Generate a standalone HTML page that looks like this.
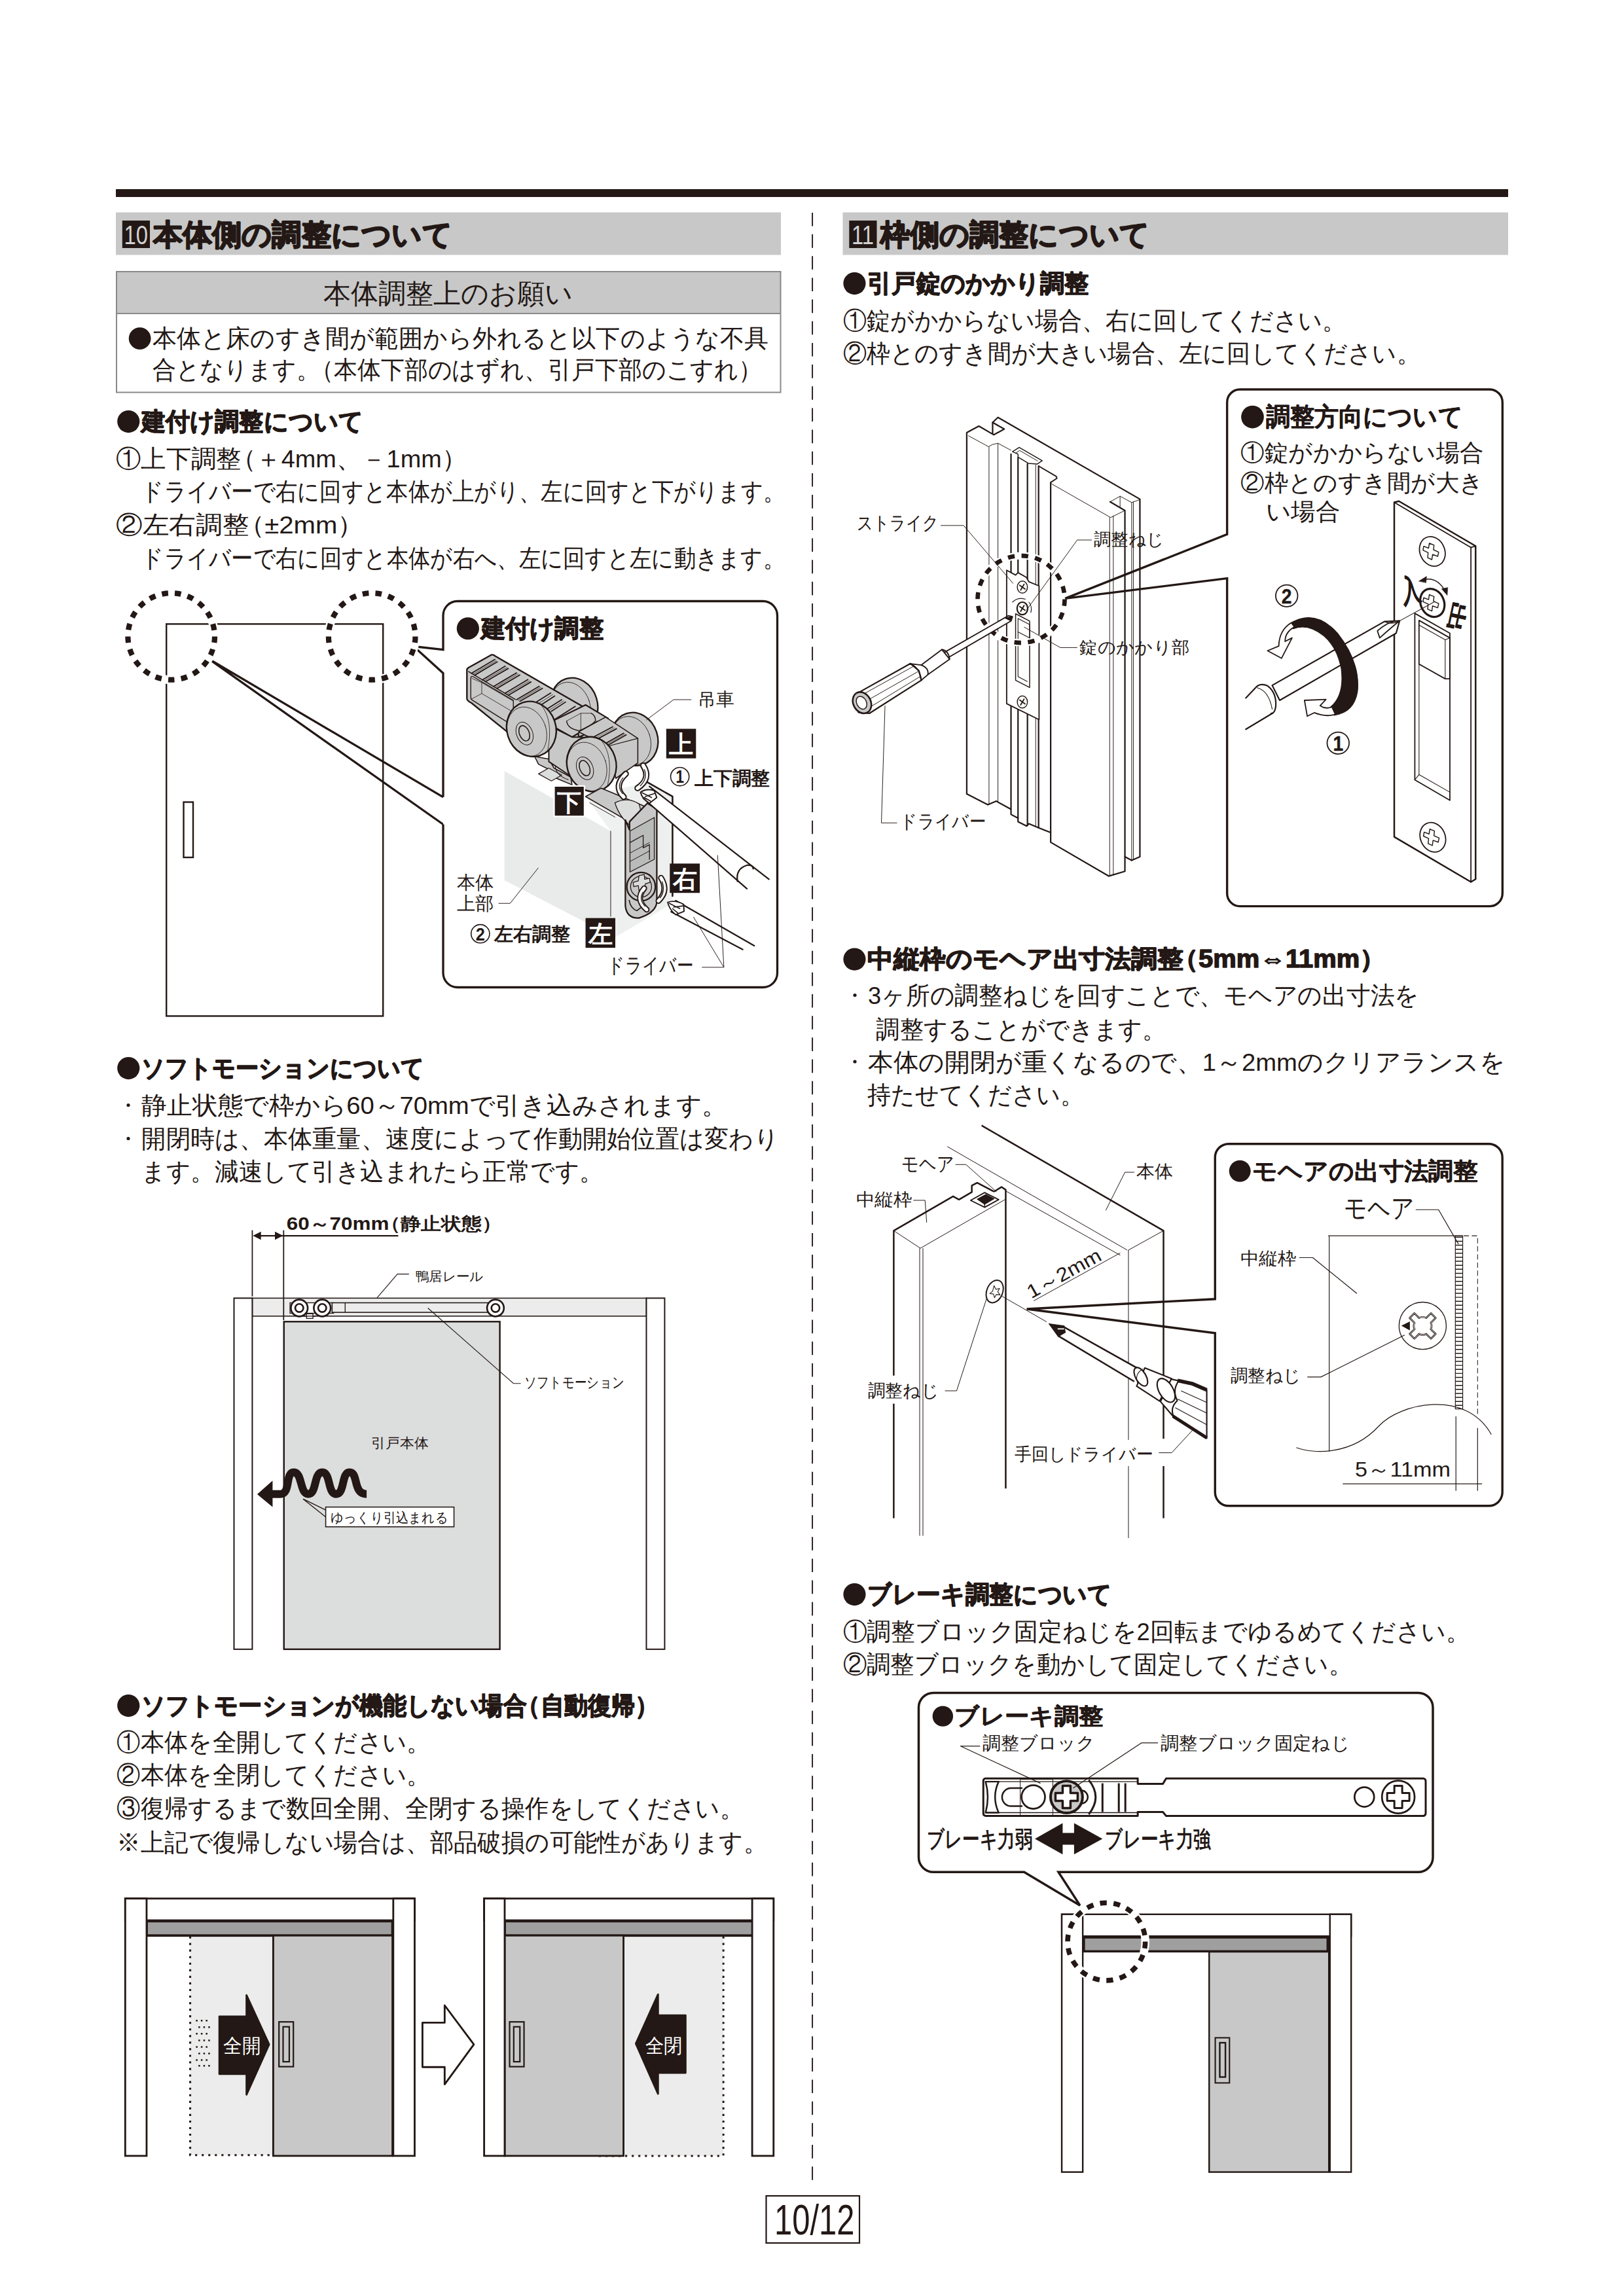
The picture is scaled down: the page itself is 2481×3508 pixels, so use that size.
<!DOCTYPE html>
<html lang="ja">
<head>
<meta charset="utf-8">
<title>10/12</title>
<style>
html,body{margin:0;padding:0;background:#fff;}
body{width:2481px;height:3508px;overflow:hidden;font-family:"Liberation Sans",sans-serif;}
svg{display:block;position:absolute;left:0;top:0;}
text{font-family:"Liberation Sans",sans-serif;fill:#231815;}
text.b{font-weight:bold;stroke:#231815;stroke-width:1.4px;stroke-linejoin:round;}
text.h{font-weight:bold;stroke:#231815;stroke-width:2px;stroke-linejoin:round;}
text.m{font-weight:bold;}
text.w{fill:#fff;}
.k{stroke:#231815;fill:none;}
</style>
</head>
<body>
<svg width="2481" height="3508" viewBox="0 0 2481 3508">
<!-- base.svg -->
<g id="base">
<rect x="177" y="289" width="2127" height="12" fill="#231815"/>
<rect x="177" y="324.5" width="1016" height="65" fill="#c8c8c8"/>
<rect x="1287.5" y="324.5" width="1016.5" height="65" fill="#c8c8c8"/>
<line x1="1241.1" y1="324.9" x2="1241.1" y2="3330.8" stroke="#231815" stroke-width="1.9" stroke-dasharray="20.6 12.57"/>
<!-- notice box -->
<rect x="178" y="415" width="1014.5" height="64" fill="#c8c8c8"/>
<rect x="178" y="415" width="1014.5" height="184.5" fill="none" stroke="#898989" stroke-width="2"/>
<line x1="178" y1="479" x2="1192.5" y2="479" stroke="#898989" stroke-width="2"/>
<!-- section number squares -->
<rect x="186.8" y="337" width="42.2" height="42" fill="#231815"/>
<text x="189.5" y="372.5" font-size="41" style="fill:#d2d2d2" textLength="36.5" lengthAdjust="spacingAndGlyphs">10</text>
<rect x="1297.3" y="337" width="42.2" height="42" fill="#231815"/>
<text x="1301" y="372.5" font-size="41" style="fill:#d2d2d2" textLength="34" lengthAdjust="spacingAndGlyphs">11</text>
<!-- page number -->
<rect x="1170.5" y="3355" width="142.5" height="72" fill="#fff" stroke="#231815" stroke-width="2.2"/>
<text x="1183" y="3414" font-size="64" textLength="122.5" lengthAdjust="spacingAndGlyphs">10/12</text>
</g>

<!-- fig1.svg -->
<g id="fig1" stroke="#231815" fill="none" stroke-linejoin="miter">
<!-- door outline -->
<rect x="254.2" y="953.4" width="331" height="599" stroke-width="2.4"/>
<rect x="280.5" y="1225.5" width="14.5" height="84.5" stroke-width="2.4"/>
<!-- wedge pointer lines -->
<path d="M677,1217.8 L318.5,1006.5 L677,1259.5" stroke-width="3.3" stroke-linejoin="bevel"/>
<!-- callout box -->
<path d="M699,918.5 H1165.5 a22,22 0 0 1 22,22 V1486.5 a22,22 0 0 1 -22,22 H699 a22,22 0 0 1 -22,-22 V1259.5 M677,1217.8 V1028.5 L631.8,987.5 L677,992.6 V940.5 a22,22 0 0 1 22,-22" stroke-width="3.3" fill="#fff"/>
<!-- dashed circles -->
<circle cx="261.7" cy="972.4" r="66.3" stroke="#fff" stroke-width="13"/>
<circle cx="568.2" cy="972.4" r="66.3" stroke="#fff" stroke-width="13"/>
<circle cx="261.7" cy="972.4" r="66.3" stroke-width="8.2" stroke-dasharray="9.6 10.23"/>
<circle cx="568.2" cy="972.4" r="66.3" stroke-width="8.2" stroke-dasharray="9.6 10.23"/>
</g>

<!-- fig1b.svg -->
<g id="fig1b-title"><circle cx="714.86" cy="960.27" r="17.1" fill="#231815"/><text class="b" x="734.62" y="973" font-size="38" textLength="187.38" lengthAdjust="spacingAndGlyphs">建付け調整</text></g>
<g id="fig1b" transform="translate(680,980) scale(0.3202)" stroke="#231815" stroke-width="6" stroke-linejoin="round" stroke-linecap="round" fill="none">
<!-- door body block -->
<polygon points="283,618 790,905 790,1402 283,1140" fill="#e9ebea" stroke="none"/>
<polygon points="790,905 1085,738 1085,1250 812,1412 790,1402" fill="#eef0ef" stroke="none"/>
<polygon points="790,905 1085,738 965,672 670,740" fill="#eff0f0" stroke="none"/>
<line x1="790" y1="905" x2="790" y2="1312" stroke-width="3"/>
<polyline points="965,672 1085,740 1085,1215" stroke-width="8"/>
<!-- ROLLERS (own coordinate system: origin 700,990 scale 5.075) -->
<g transform="translate(64.05,32.03) scale(0.61537)" stroke-width="12">
<!-- legs under rollers -->
<polygon points="590,840 700,860 740,930 870,1000 880,1060 760,1010 700,940 620,900" fill="#c8c8c8" stroke-width="8"/>
<polygon points="620,975 700,930 800,985 720,1030" fill="#dcdddd" stroke-width="6"/>
<path d="M750,920 Q760,990 850,1020" stroke-width="6"/>
<!-- back wheel A -->
<ellipse cx="897" cy="440" rx="180" ry="212" transform="rotate(-18 897 440)" fill="#c8c8c8"/>
<ellipse cx="870" cy="455" rx="150" ry="195" transform="rotate(-18 870 455)" stroke-width="4"/>
<!-- back wheel B -->
<ellipse cx="1366" cy="705" rx="178" ry="208" transform="rotate(-18 1366 705)" fill="#c8c8c8"/>
<ellipse cx="1338" cy="718" rx="150" ry="192" transform="rotate(-18 1338 718)" stroke-width="4"/>
<!-- rack bar: side face -->
<path d="M65,175 Q62,160 80,150 L255,52 Q270,48 285,62 L1010,480 L1010,700 L440,700 L100,425 Q65,410 65,390 Z" fill="#c8c8c8"/>
<!-- slot in side face -->
<path d="M95,235 Q95,212 115,222 L425,405 L425,470 L420,600 L110,405 Q95,398 95,380 Z" fill="#c8c8c8" stroke-width="7"/>
<polyline points="180,268 180,352 100,395" stroke-width="4"/>
<polyline points="180,268 420,408" stroke-width="4"/>
<polyline points="180,352 400,482" stroke-width="4"/>
<polyline points="105,235 180,268" stroke-width="4"/>
<!-- top face front edge -->
<polyline points="78,182 440,398" stroke-width="8"/>
<!-- teeth -->
<g stroke-width="9">
<line x1="100" y1="195" x2="282" y2="88"/><line x1="125" y1="210" x2="300" y2="106"/>
<line x1="185" y1="246" x2="362" y2="140"/><line x1="210" y1="260" x2="385" y2="158"/>
<line x1="272" y1="297" x2="450" y2="192"/><line x1="298" y1="312" x2="475" y2="208"/>
<line x1="360" y1="350" x2="538" y2="244"/><line x1="386" y1="365" x2="562" y2="262"/>
<line x1="450" y1="400" x2="626" y2="296"/><line x1="476" y1="412" x2="650" y2="312"/>
<line x1="600" y1="420" x2="715" y2="348"/><line x1="640" y1="440" x2="745" y2="372"/>
<line x1="690" y1="470" x2="800" y2="400"/><line x1="720" y1="490" x2="830" y2="418"/>
<line x1="735" y1="560" x2="905" y2="452"/>
</g>
<g stroke-width="4">
<line x1="112" y1="203" x2="292" y2="98"/><line x1="198" y1="253" x2="374" y2="150"/>
<line x1="285" y1="305" x2="462" y2="200"/><line x1="373" y1="358" x2="550" y2="254"/>
<line x1="463" y1="406" x2="638" y2="304"/><line x1="620" y1="430" x2="730" y2="360"/><line x1="705" y1="480" x2="815" y2="410"/>
</g>
<!-- center block -->
<polygon points="740,560 985,440 1160,545 1160,600 930,690 930,660 880,690 720,600" fill="#c8c8c8" stroke-width="11"/>
<path d="M838,565 Q845,625 935,640 Q1040,600 1062,560 Q1060,520 1030,505" stroke-width="7"/>
<line x1="948" y1="505" x2="948" y2="635" stroke-width="4"/>
<polyline points="838,565 948,505 1030,505" stroke-width="4"/>
<line x1="950" y1="640" x2="1075" y2="570" stroke-width="12"/>
<!-- right toothed section and end block -->
<polygon points="930,650 1140,535 1300,640 1390,700 1390,890 1220,1010 1160,760" fill="#c8c8c8" stroke-width="8"/>
<polyline points="1160,760 1390,700" stroke-width="6"/>
<g stroke-width="9">
<line x1="1045" y1="690" x2="1195" y2="610"/><line x1="1075" y1="705" x2="1225" y2="625"/>
<line x1="1130" y1="745" x2="1280" y2="660"/><line x1="1150" y1="757" x2="1300" y2="672"/>
</g>
<g stroke-width="3"><line x1="1060" y1="698" x2="1210" y2="618"/><line x1="1140" y1="751" x2="1290" y2="666"/></g>
<!-- under body between wheels -->
<polygon points="700,600 880,690 960,690 960,1000 880,1000 700,880" fill="#c8c8c8" stroke-width="10"/>
<!-- front wheel 1 -->
<ellipse cx="565" cy="627" rx="190" ry="216" transform="rotate(-18 565 627)" fill="#c8c8c8"/>
<ellipse cx="530" cy="648" rx="150" ry="196" transform="rotate(-18 530 648)" stroke-width="4"/>
<path d="M640,440 Q740,560 690,800" stroke-width="4"/>
<ellipse cx="512" cy="662" rx="62" ry="92" transform="rotate(-22 512 662)" stroke-width="5"/>
<ellipse cx="510" cy="660" rx="38" ry="62" transform="rotate(-22 510 660)" stroke-width="8"/>
<!-- front wheel 2 -->
<ellipse cx="1031" cy="900" rx="190" ry="214" transform="rotate(-18 1031 900)" fill="#c8c8c8"/>
<ellipse cx="996" cy="920" rx="150" ry="194" transform="rotate(-18 996 920)" stroke-width="4"/>
<path d="M1105,712 Q1205,835 1155,1070" stroke-width="4"/>
<ellipse cx="980" cy="932" rx="62" ry="92" transform="rotate(-22 980 932)" stroke-width="5"/>
<ellipse cx="978" cy="930" rx="38" ry="62" transform="rotate(-22 978 930)" stroke-width="8"/>
</g>
<!-- bracket top strip and seat -->
<polygon points="670,740 745,700 960,790 1010,800 1010,830 880,900 860,850" fill="#c8c8c8" stroke-width="5"/>
<path d="M810,770 Q835,850 905,895 Q950,850 925,775 Q870,740 810,770 Z" fill="#dcdddd" stroke-width="4"/>
<polyline points="690,770 810,838" stroke-width="3"/>
<!-- vertical bracket plate -->
<path d="M860,852 V1262 Q866,1322 925,1320 Q1010,1292 1010,1240 V800 L965,772 L880,860 V900 Z" fill="#c8c8c8" stroke-width="7"/>
<polygon points="882,905 998,840 998,1040 882,1100" fill="#b9baba" stroke-width="4"/>
<polyline points="882,960 945,925 945,985 975,970 975,1040" stroke-width="4"/>
<polyline points="882,1010 975,960" stroke-width="3"/>
<polyline points="882,1050 975,1000" stroke-width="3"/>
<!-- screw -->
<circle cx="935" cy="1170" r="68" fill="#c8c8c8" stroke-width="7"/>
<circle cx="935" cy="1170" r="50" stroke-width="4"/>
<path d="M925,1118 L950,1112 L952,1135 L975,1130 L978,1150 L955,1157 L950,1185 L925,1190 L922,1165 L900,1170 L897,1150 L922,1143 Z" fill="#dcdddd" stroke-width="4"/>
<path d="M878,1235 Q885,1275 915,1285 L945,1262" stroke-width="5"/>
<!-- rotation arcs (white with outline) -->
<g stroke-linecap="round">
<path d="M852,742 Q800,690 862,632" stroke-width="30"/><path d="M852,742 Q800,690 862,632" stroke="#fff" stroke-width="17"/>
<path d="M918,700 Q985,655 945,592" stroke-width="30"/><path d="M918,700 Q985,655 945,592" stroke="#fff" stroke-width="17"/>
<path d="M962,1280 Q905,1230 950,1178" stroke-width="28"/><path d="M962,1280 Q905,1230 950,1178" stroke="#fff" stroke-width="16"/>
<path d="M1018,1238 Q1068,1190 1030,1128" stroke-width="28"/><path d="M1018,1238 Q1068,1190 1030,1128" stroke="#fff" stroke-width="16"/>
</g>
<g stroke-width="4" stroke-linecap="butt"><path d="M848,728 Q815,690 850,650"/><path d="M930,690 Q968,655 950,610"/><path d="M955,1265 Q922,1230 945,1195"/><path d="M1025,1225 Q1052,1190 1035,1145"/></g>
<!-- drivers -->
<polygon points="975,692 1545,1135 1440,1180 945,748" fill="#fff" stroke="none"/>
<line x1="975" y1="692" x2="1545" y2="1135" stroke-width="7"/>
<line x1="945" y1="748" x2="1440" y2="1180" stroke-width="7"/>
<path d="M932,720 Q960,700 998,712 L1010,745 L975,772 Q940,750 932,720 Z" fill="#fff" stroke-width="6"/><path d="M940,722 L985,745 M955,740 L1000,725 M950,745 L980,762" stroke-width="5"/>
<path d="M1395,1145 Q1385,1085 1440,1068 Q1470,1065 1470,1085" stroke-width="7"/>
<polygon points="1100,1237 1475,1452 1420,1470 1078,1290" fill="#fff" stroke="none"/>
<line x1="1100" y1="1237" x2="1475" y2="1452" stroke-width="7"/>
<line x1="1078" y1="1290" x2="1420" y2="1470" stroke-width="7"/>
<path d="M1062,1245 Q1100,1232 1138,1255 L1140,1288 L1100,1304 Q1070,1280 1062,1245 Z" fill="#fff" stroke-width="6"/><path d="M1070,1250 L1120,1275 M1090,1268 L1135,1262 M1085,1275 L1110,1296" stroke-width="5"/>
<!-- leaders -->
<g stroke-width="3" stroke-linecap="butt">
<polyline points="1175,278 1090,278 960,375"/>
<polyline points="255,1250 310,1250 445,1080"/>
<polyline points="1225,1555 1330,1555 1300,1020"/>
<polyline points="1330,1555 1185,1315"/>
</g>
<!-- black label boxes -->
<g stroke="#fff" stroke-width="7" fill="#231815">
<rect x="1055" y="417" width="142" height="141" stroke="none"/>
<rect x="520" y="690" width="145" height="145"/>
<rect x="1072" y="1060" width="143" height="140" stroke="none"/>
<rect x="670" y="1320" width="142" height="142" stroke="none"/>
</g>
<g stroke="none">
<text class="w m" x="1068" y="532" font-size="116" textLength="116" lengthAdjust="spacingAndGlyphs">上</text><text class="w m" x="534" y="808" font-size="116" textLength="116" lengthAdjust="spacingAndGlyphs">下</text><text class="w m" x="1086" y="1174" font-size="116" textLength="116" lengthAdjust="spacingAndGlyphs">右</text><text class="w m" x="683" y="1436" font-size="116" textLength="116" lengthAdjust="spacingAndGlyphs">左</text>
<text class="n" x="1205" y="307" font-size="86" textLength="173" lengthAdjust="spacingAndGlyphs">吊車</text>
<text class="m" x="1190" y="683" font-size="92" textLength="360" lengthAdjust="spacingAndGlyphs">上下調整</text>
<text class="m" x="235" y="1428" font-size="92" textLength="363" lengthAdjust="spacingAndGlyphs">左右調整</text>
<text class="n" x="55" y="1179" font-size="88" textLength="177" lengthAdjust="spacingAndGlyphs">本体</text><text class="n" x="55" y="1279" font-size="88" textLength="177" lengthAdjust="spacingAndGlyphs">上部</text>
<text class="n" x="775" y="1579" font-size="100.32" textLength="410" lengthAdjust="spacingAndGlyphs">ドライバー</text>
</g>
<circle cx="1120" cy="645" r="44" stroke-width="5"/>
<circle cx="168" cy="1395" r="44" stroke-width="5"/>
<g stroke="none"><text class="m" x="1100" y="676" font-size="84" textLength="40" lengthAdjust="spacingAndGlyphs">1</text><text class="m" x="146" y="1426" font-size="84" textLength="44" lengthAdjust="spacingAndGlyphs">2</text></g>
</g>

<!-- fig2.svg -->
<g id="fig2" transform="translate(330,1830) scale(0.44334)" stroke="#231815" stroke-width="4.5" fill="none" stroke-linejoin="miter">
<!-- rail -->
<rect x="125" y="346" width="1358" height="62" fill="#ebeceb" stroke-width="3.5"/>
<!-- posts -->
<rect x="62" y="346" width="63" height="1210" fill="#fff"/>
<rect x="1483" y="346" width="63" height="1210" fill="#fff"/>
<!-- door -->
<rect x="234" y="427" width="744" height="1129" fill="#dcdddd" stroke-width="5.5"/>
<!-- soft motion unit -->
<rect x="255" y="362" width="150" height="36" fill="#fff" stroke-width="3"/>
<rect x="400" y="362" width="545" height="33" fill="#ebeceb" stroke-width="3.5"/>
<line x1="445" y1="362" x2="445" y2="395" stroke-width="3"/>
<rect x="312" y="400" width="22" height="16" fill="#fff" stroke-width="3"/>
<line x1="300" y1="408" x2="345" y2="408" stroke-width="3"/>
<g fill="#fff" stroke-width="6">
<circle cx="287" cy="380" r="29"/><circle cx="366" cy="380" r="29"/><circle cx="963" cy="380" r="29"/>
<circle cx="287" cy="380" r="14"/><circle cx="366" cy="380" r="14"/><circle cx="963" cy="380" r="14"/>
</g>
<!-- dimension -->
<line x1="125" y1="112" x2="125" y2="340" stroke-width="4"/>
<line x1="233" y1="112" x2="233" y2="422" stroke-width="4"/>
<line x1="140" y1="131" x2="628" y2="131" stroke-width="5"/>
<polygon points="127,131 155,117 155,145" fill="#231815" stroke="none"/>
<polygon points="231,131 203,117 203,145" fill="#231815" stroke="none"/>
<!-- leaders -->
<polyline points="555,345 625,263 665,263" stroke-width="2.5"/>
<polyline points="730,380 1025,640 1050,640" stroke-width="2.5"/>
<!-- wavy arrow -->
<path d="M190,1021 H222 C258,1021 238,946 268,946 C298,946 288,1021 318,1021 C348,1021 336,946 366,946 C396,946 384,1021 414,1021 C444,1021 432,946 460,946 C492,946 470,1021 519,1021" stroke-width="27" stroke-linejoin="round"/>
<polygon points="142,1022 195,975 195,1066" fill="#231815" stroke="none"/>
<!-- label box -->
<polyline points="378,1076 300,1038 378,1100" stroke-width="3" stroke-linejoin="bevel"/>
<rect x="378" y="1066" width="442" height="68" fill="#fff" stroke-width="3.5"/>
<g stroke="none">
<text class="m" x="243" y="110" font-size="62" textLength="742" lengthAdjust="spacingAndGlyphs">60～70mm<tspan dx="-0.42em">（</tspan>静止状態）</text>
<text class="n" x="687" y="287" font-size="46" textLength="233" lengthAdjust="spacingAndGlyphs">鴨居レール</text>
<text class="n" x="1062" y="655" font-size="52.44" textLength="346" lengthAdjust="spacingAndGlyphs">ソフトモーション</text>
<text class="n" x="535" y="862" font-size="47" textLength="197" lengthAdjust="spacingAndGlyphs">引戸本体</text>
<text class="n" x="395" y="1119" font-size="48" textLength="405" lengthAdjust="spacingAndGlyphs">ゆっくり引込まれる</text>
</g>
</g>

<!-- fig3.svg -->
<g id="fig3" transform="translate(180,2880) scale(0.62807)" stroke="#231815" stroke-width="4.5" fill="none" stroke-linejoin="miter">
<!-- left diagram -->
<rect x="18" y="33" width="704" height="53" fill="#fff"/>
<rect x="176" y="125" width="202" height="532" fill="#ebeceb" stroke="none"/>
<path d="M176,125 V657 H378" stroke-width="4.8" stroke-dasharray="5 11"/>
<rect x="70" y="88" width="598" height="35" fill="#9f9f9f" stroke-width="6"/>
<rect x="378" y="123" width="290" height="536" fill="#c8c8c8"/>
<rect x="18" y="33" width="52" height="626" fill="#fff"/>
<rect x="670" y="33" width="52" height="626" fill="#fff"/>
<rect x="392" y="333" width="35" height="109" fill="#c8c8c8" stroke-width="3.5"/>
<rect x="402" y="345" width="15" height="85" stroke-width="3.5"/>
<polygon points="247,320 313,320 313,268 368,388 313,510 313,460 247,460" fill="#231815" stroke-linejoin="round"/>
<g stroke-width="4" stroke-dasharray="4 8">
<line x1="190" y1="330" x2="226" y2="330"/><line x1="196" y1="346" x2="226" y2="346"/><line x1="190" y1="362" x2="226" y2="362"/>
<line x1="196" y1="378" x2="226" y2="378"/><line x1="190" y1="394" x2="226" y2="394"/><line x1="196" y1="410" x2="226" y2="410"/>
<line x1="190" y1="426" x2="226" y2="426"/><line x1="196" y1="440" x2="226" y2="440"/>
</g>
<!-- middle arrow -->
<polygon points="741,335 795,335 795,293 866,388 795,485 795,443 741,443" fill="#fff" stroke-linejoin="round"/>
<!-- right diagram -->
<rect x="891" y="33" width="704" height="53" fill="#fff"/>
<rect x="1230" y="125" width="243" height="534" fill="#ebeceb" stroke="none"/>
<path d="M1473,125 V659 H1165" stroke-width="4.8" stroke-dasharray="5 11"/>
<rect x="941" y="88" width="606" height="35" fill="#9f9f9f" stroke-width="6"/>
<rect x="941" y="123" width="289" height="536" fill="#c8c8c8"/>
<rect x="891" y="33" width="50" height="626" fill="#fff"/>
<rect x="1543" y="33" width="52" height="626" fill="#fff"/>
<rect x="953" y="333" width="35" height="109" fill="#c8c8c8" stroke-width="3.5"/>
<rect x="963" y="345" width="15" height="85" stroke-width="3.5"/>
<polygon points="1381,317 1314,317 1314,266 1260,386 1314,508 1314,457 1381,457" fill="#231815" stroke-linejoin="round"/>
<g stroke="none">
<text class="w" x="257" y="407" font-size="48" textLength="91" lengthAdjust="spacingAndGlyphs">全開</text>
<text class="w" x="1283" y="407" font-size="48" textLength="90" lengthAdjust="spacingAndGlyphs">全閉</text>
</g>
</g>

<!-- fig4a.svg -->
<g id="fig4a" transform="translate(1280,620) scale(0.36945)" stroke="#231815" stroke-width="6" fill="none" stroke-linejoin="round" stroke-linecap="round">
<!-- frame silhouette fill white -->
<polygon points="533,112 588,84 640,113 640,68 662,48 1248,385 1248,1865 1215,1880 1185,1865 1185,1925 1120,1945 880,1805 880,1765 830,1745 715,1690 715,1668 655,1635 620,1650 533,1605" fill="#fff" stroke="none"/>
<!-- thick outlines -->
<polyline points="533,1605 533,111 583,84 645,120 688,96 640,69"/>
<polyline points="640,116 640,69 662,48 1249,386 1249,1865 1215,1880"/>
<polyline points="533,1605 620,1650 655,1635 715,1668"/>
<polyline points="716,200 716,1690 745,1705 745,1720 780,1738 790,1728 830,1745"/>
<line x1="745" y1="215" x2="745" y2="1705"/>
<line x1="784" y1="240" x2="784" y2="1736"/>
<polyline points="830,249 830,1745 880,1765"/>
<polyline points="880,317 880,1805 1120,1945 1187,1925 1187,433 1126,397"/>
<polyline points="1187,1865 1215,1880"/>
<polyline points="830,249 903,292 906,300 880,317" stroke-width="5"/>
<!-- thin lines -->
<g stroke-width="2.6">
<polyline points="540,124 623,169 640,160 662,155 716,184"/>
<line x1="625" y1="170" x2="625" y2="1650"/><line x1="662" y1="156" x2="662" y2="1637"/>
<line x1="818" y1="245" x2="818" y2="1740"/>
<line x1="1124" y1="462" x2="1124" y2="1945"/><line x1="1139" y1="455" x2="1139" y2="1940"/>
<line x1="1215" y1="400" x2="1215" y2="1880"/><line x1="1222" y1="398" x2="1222" y2="1876"/>
<polyline points="884,323 1128,462 1187,433"/>
<polyline points="1126,397 1167,374 1215,400 1249,388"/>
<line x1="1167" y1="374" x2="1167" y2="420"/>
</g>
<!-- channel top clip -->
<polygon points="722,190 750,172 845,227 824,241 788,238 745,212 745,200" fill="#fff" stroke-width="4"/><polyline points="735,196 752,185 826,228" stroke-width="2.6"/>
<!-- strike plate -->
<polygon points="698,680 735,700 745,690 780,710 790,728 832,745 832,1298 698,1232" fill="#fff" stroke-width="5"/>
<polygon points="735,860 793,890 793,1165 735,1135" stroke-width="4"/>
<polygon points="745,880 793,905 793,960 745,935" stroke-width="3"/>
<polyline points="745,935 745,1120 783,1140" stroke-width="3"/>
<g stroke-width="4" fill="#fff">
<ellipse cx="763" cy="750" rx="21" ry="25"/><ellipse cx="763" cy="838" rx="22" ry="26" stroke-width="6"/><ellipse cx="763" cy="1225" rx="21" ry="25"/>
</g>
<g stroke-width="5"><path d="M752,742 L774,758 M770,738 L756,762"/><path d="M752,830 L774,846 M770,826 L756,850"/><path d="M752,1217 L774,1233 M770,1213 L756,1237"/></g>
<path d="M722,812 Q745,790 775,800" stroke-width="3"/><path d="M790,812 Q805,830 798,855" stroke-width="3"/>
<!-- dashed circle -->
<circle cx="758" cy="800" r="180" stroke="#fff" stroke-width="30"/>
<circle cx="758" cy="800" r="180" stroke-width="18" stroke-dasharray="28 28.55" stroke-linecap="butt"/>
<!-- wedge -->
<!-- screwdriver -->
<polygon points="440,1020 705,868 722,872 716,890 455,1042" fill="#fff" stroke-width="5"/>
<polygon points="690,877 722,872 716,890" fill="#231815" stroke-width="3"/>
<polygon points="300,1067 345,1072 430,1008 462,1048 372,1112 345,1135" fill="#fff" stroke-width="5"/>
<path d="M430,1008 Q458,1012 462,1048" stroke-width="5"/>
<path d="M345,1072 Q378,1085 372,1112" stroke-width="5"/>
<polygon points="75,1192 300,1066 335,1095 345,1135 130,1272 85,1268" fill="#fff" stroke-width="6"/>
<path d="M300,1066 Q340,1085 345,1135" stroke-width="5"/>
<g stroke-width="2.6"><line x1="110" y1="1190" x2="312" y2="1078"/><line x1="128" y1="1215" x2="330" y2="1100"/><line x1="135" y1="1245" x2="340" y2="1120"/></g>
<ellipse cx="100" cy="1228" rx="36" ry="46" transform="rotate(-28 100 1228)" fill="#c8c8c8" stroke-width="7"/>
<ellipse cx="98" cy="1228" rx="20" ry="28" transform="rotate(-28 98 1228)" fill="#fff" stroke-width="4"/>
<!-- leaders -->
<g stroke-width="2.6" stroke-linecap="butt">
<polyline points="425,495 520,495 725,735"/>
<polyline points="1050,555 990,555 780,845"/>
<polyline points="990,1000 920,1000 770,915"/>
<polyline points="195,1240 180,1725 245,1725"/>
</g>
<g stroke="none">
<text class="n" x="78" y="512" font-size="79.8" textLength="340" lengthAdjust="spacingAndGlyphs">ストライク</text>
<text class="n" x="1058" y="577" font-size="70" textLength="292" lengthAdjust="spacingAndGlyphs">調整ねじ</text>
<text class="n" x="1000" y="1022" font-size="70" textLength="455" lengthAdjust="spacingAndGlyphs">錠のかかり部</text>
<text class="n" x="258" y="1747" font-size="79.8" textLength="354" lengthAdjust="spacingAndGlyphs">ドライバー</text>
</g>
</g>

<!-- fig4b.svg -->
<g id="fig4b" transform="translate(1840,580) scale(0.35714)" stroke="#231815" stroke-width="6" fill="none" stroke-linejoin="round" stroke-linecap="round">
<!-- callout box -->
<path d="M97,850 V2198 a55,55 0 0 0 55,55 H1220 a55,55 0 0 0 55,-55 V97 a55,55 0 0 0 -55,-55 H152 a55,55 0 0 0 -55,55 V662" fill="#fff" stroke="none"/>
<path d="M-595.6,936.3 L97,850 V2198 a55,55 0 0 0 55,55 H1220 a55,55 0 0 0 55,-55 V97 a55,55 0 0 0 -55,-55 H152 a55,55 0 0 0 -55,55 V662 Z" stroke-width="9.5" stroke-linejoin="miter" stroke-linecap="butt"/>
<!-- plate -->
<polygon points="812,525 832,520 1160,712 1160,2137 1140,2149 812,1956" fill="#fff" stroke-width="7"/>
<polyline points="812,525 1140,718 1140,2149" stroke-width="5"/>
<line x1="1140" y1="718" x2="1160" y2="712" stroke-width="5"/>
<!-- slot -->
<polygon points="900,1000 1050,1085 1050,1800 900,1712" stroke-width="5"/>
<polygon points="918,1030 1050,1105 1050,1280 1030,1280 918,1217" stroke-width="5"/>
<polyline points="918,1050 1030,1113 1030,1280" stroke-width="3"/>
<polyline points="918,1217 918,1690 1050,1765" stroke-width="3"/>
<polyline points="900,1712 918,1690" stroke-width="3"/>
<line x1="1030" y1="1113" x2="1050" y2="1105" stroke-width="3"/>
<!-- screws -->
<g fill="#fff">
<ellipse cx="975" cy="735" rx="53" ry="65" transform="rotate(-24 975 735)" stroke-width="5"/>
<ellipse cx="975" cy="955" rx="50" ry="62" transform="rotate(-24 975 955)" stroke-width="9"/>
<ellipse cx="977" cy="1958" rx="53" ry="65" transform="rotate(-24 977 1958)" stroke-width="5"/>
</g>
<g stroke-width="4" fill="#fff">
<path d="M962,700 l20,8 l-2,20 l22,10 l-4,18 l-22,-8 l-3,22 l-18,-8 l2,-22 l-22,-10 l3,-17 l21,8 z"/>
<path d="M962,920 l20,8 l-2,20 l22,10 l-4,18 l-22,-8 l-3,22 l-18,-8 l2,-22 l-22,-10 l3,-17 l21,8 z"/>
<path d="M964,1923 l20,8 l-2,20 l22,10 l-4,18 l-22,-8 l-3,22 l-18,-8 l2,-22 l-22,-10 l3,-17 l21,8 z"/>
</g>
<!-- in/out arrows around screw -->
<path d="M928,860 Q990,835 1030,905" stroke-width="4"/>
<polygon points="918,862 950,842 948,868" fill="#231815" stroke-width="2"/>
<polygon points="1038,922 1015,895 1040,890" fill="#231815" stroke-width="2"/>
<!-- thin line from tip to screw -->
<line x1="830" y1="1035" x2="985" y2="950" stroke-width="3"/>
<!-- driver shaft -->
<polygon points="290,1308 770,1035 835,1032 820,1085 322,1372" fill="#fff" stroke-width="6"/>
<path d="M740,1075 Q790,1030 835,1032 Q800,1060 750,1105 Z" fill="#fff" stroke-width="5"/>
<path d="M770,1035 Q800,1050 835,1032" stroke-width="4"/>
<!-- handle part -->
<polygon points="177,1362 232,1322 300,1420 177,1496" fill="#fff" stroke="none"/>
<polyline points="177,1362 215,1322"/><polyline points="177,1496 290,1428"/>
<path d="M215,1322 Q235,1295 270,1310 Q310,1340 305,1400 Q300,1430 285,1428" stroke-width="6"/>
<path d="M225,1318 Q275,1330 290,1410" stroke-width="3"/>
<!-- black rotation band -->
<path d="M362,1046 Q470,975 570,1085 Q668,1210 655,1335 Q640,1425 555,1436 L540,1400 Q600,1350 585,1235 Q560,1110 465,1068 Q420,1050 380,1066 Z" fill="#231815" stroke-width="3"/>
<!-- outline arrows -->
<path d="M372,1040 Q320,1070 318,1140 L270,1160 L330,1192 L375,1105 L345,1120 Q345,1080 385,1058 Z" fill="#fff" stroke-width="5"/>
<path d="M560,1432 Q520,1445 470,1425 L440,1440 L428,1372 L520,1368 L495,1395 Q520,1412 545,1400 Z" fill="#fff" stroke-width="5"/>
<!-- circled numbers -->
<circle cx="352" cy="925" r="47" stroke-width="5" fill="#fff"/>
<circle cx="572" cy="1555" r="47" stroke-width="5" fill="#fff"/>
<g stroke="none">
<text class="b" x="330" y="958" font-size="88" textLength="44" lengthAdjust="spacingAndGlyphs">2</text>
<text class="b" x="550" y="1588" font-size="88" textLength="44" lengthAdjust="spacingAndGlyphs">1</text>
<circle cx="205.76" cy="159.82" r="48.6" fill="#231815"/><text class="b" x="261.92" y="196" font-size="108" textLength="843.08" lengthAdjust="spacingAndGlyphs">調整方向について</text>
<text class="n" x="155" y="347" font-size="102" textLength="1040" lengthAdjust="spacingAndGlyphs">①錠がかからない場合</text>
<text class="n" x="155" y="475" font-size="102" textLength="1040" lengthAdjust="spacingAndGlyphs">②枠とのすき間が大き</text>
<text class="n" x="262" y="600" font-size="102" textLength="318" lengthAdjust="spacingAndGlyphs">い場合</text>
</g>
<g stroke="none" transform="translate(882,900) rotate(-10) scale(0.8,1.3)"><text class="b" x="-50" y="36" font-size="100">入</text></g>
<g stroke="none" transform="translate(1079,1018) rotate(102) scale(1.35,0.78)"><text class="b" x="-50" y="36" font-size="100">出</text></g>
</g>

<!-- fig5a.svg -->
<g id="fig5a" transform="translate(1290,1700) scale(0.35714)" stroke="#231815" stroke-width="7" fill="none" stroke-linejoin="round" stroke-linecap="butt">
<!-- thick lines -->
<polyline points="211,1125 211,505 465,358 490,372 545,340 545,312 568,300 640,338"/>
<line x1="211" y1="1245" x2="211" y2="1735"/>
<polyline points="640,338 672,318 690,330 690,1608"/>
<polyline points="587,55 1365,505 1365,1395"/>
<line x1="1365" y1="1512" x2="1365" y2="1735"/>
<!-- mohair clip -->
<polygon points="540,375 600,342 660,372 600,405" fill="#fff" stroke-width="5"/>
<polygon points="568,370 605,350 640,368 600,392" fill="#231815" stroke-width="3"/>
<polyline points="600,405 600,392" stroke-width="4"/>
<!-- thin lines -->
<g stroke-width="2.8">
<polyline points="211,505 325,580 690,370"/>
<line x1="322" y1="580" x2="322" y2="1810"/><line x1="336" y1="580" x2="336" y2="1810"/>
<line x1="440" y1="145" x2="1210" y2="588"/>
<line x1="690" y1="335" x2="1180" y2="610"/>
<polyline points="1365,505 1215,588"/>
<line x1="1215" y1="588" x2="1215" y2="1400"/><line x1="1215" y1="1512" x2="1215" y2="1820"/>
<line x1="810" y1="805" x2="1180" y2="600"/>
<line x1="665" y1="780" x2="865" y2="895"/>
<polyline points="475,222 520,222 650,338"/>
<polyline points="295,375 345,375 352,470"/>
<polyline points="1240,255 1200,255 1118,418"/>
<polyline points="430,1190 480,1190 610,790"/>
<polyline points="1345,1455 1400,1455 1520,1325"/>
</g>
<!-- screw -->
<ellipse cx="643" cy="765" rx="34" ry="50" transform="rotate(22 643 765)" stroke-width="5.5" fill="#fff"/>
<path d="M640,740 l8,16 l16,-4 l-8,14 l10,14 l-16,-2 l-8,14 l-4,-16 l-16,-2 l12,-10 z" stroke-width="3"/>
<!-- wedge -->
<!-- screwdriver -->
<polygon points="905,905 1262,1095 1240,1150 880,935" fill="#fff" stroke="none"/>
<line x1="930" y1="912" x2="1262" y2="1098" stroke-width="7"/>
<line x1="915" y1="955" x2="1240" y2="1150" stroke-width="7"/>
<polygon points="875,903 940,912 945,940 915,958" fill="#231815" stroke-width="3"/>
<path d="M912,925 L940,925" stroke="#fff" stroke-width="5"/>
<!-- collar -->
<path d="M1285,1092 L1400,1138 L1348,1234 L1250,1170 Z" fill="#fff" stroke-width="6"/>
<ellipse cx="1268" cy="1130" rx="22" ry="44" transform="rotate(-30 1268 1130)" fill="#fff" stroke-width="6"/>
<path d="M1256,1160 Q1238,1120 1276,1096" stroke-width="3"/>
<polygon points="1398,1140 1425,1146 1490,1160 1550,1186 1550,1393 1405,1298 1352,1236" fill="#fff" stroke-width="6"/>
<ellipse cx="1376" cy="1188" rx="30" ry="56" transform="rotate(-30 1376 1188)" fill="#fff" stroke-width="6"/>
<path d="M1425,1146 L1490,1160 L1550,1186" stroke-width="16"/>
<path d="M1405,1298 L1550,1391" stroke-width="14"/>
<g stroke-width="3"><line x1="1440" y1="1190" x2="1550" y2="1240"/><line x1="1425" y1="1225" x2="1550" y2="1285"/><line x1="1415" y1="1262" x2="1550" y2="1335"/></g>
<path d="M1428,1150 Q1402,1190 1424,1232 Q1392,1262 1408,1300" stroke-width="6"/>
<g stroke="none">
<text class="n" x="243" y="249" font-size="85.5" textLength="227" lengthAdjust="spacingAndGlyphs">モヘア</text>
<text class="n" x="50" y="399" font-size="75" textLength="240" lengthAdjust="spacingAndGlyphs">中縦枠</text>
<text class="n" x="1248" y="276" font-size="75" textLength="157" lengthAdjust="spacingAndGlyphs">本体</text>
<text class="n" x="100" y="1216" font-size="76" textLength="305" lengthAdjust="spacingAndGlyphs">調整ねじ</text>
<text class="n" x="728" y="1486" font-size="76" textLength="592" lengthAdjust="spacingAndGlyphs">手回しドライバー</text>
</g>
<g stroke="none" transform="rotate(-29 940 690)"><text class="n" x="765" y="716" font-size="82" textLength="350" lengthAdjust="spacingAndGlyphs">1～2mm</text></g>
</g>

<!-- fig5b.svg -->
<g id="fig5b" transform="translate(1840,1730) scale(0.29557)" stroke="#231815" stroke-width="4" fill="none" stroke-linejoin="round" stroke-linecap="butt">
<path d="M55,1038 V1861 a70,70 0 0 0 70,70 H1470 a70,70 0 0 0 70,-70 V130 a70,70 0 0 0 -70,-70 H125 a70,70 0 0 0 -70,70 V862" fill="#fff" stroke="none"/>
<path d="M-918.2,913.5 L55,1038 V1861 a70,70 0 0 0 70,70 H1470 a70,70 0 0 0 70,-70 V130 a70,70 0 0 0 -70,-70 H125 a70,70 0 0 0 -70,70 V862 Z" stroke-width="11.5" stroke-linejoin="miter"/>
<!-- frame rect -->
<polyline points="640,535 1335,535"/>
<line x1="645" y1="535" x2="645" y2="1650"/>
<!-- mohair strip -->
<rect x="1297" y="535" width="38" height="895" fill="#fff" stroke-width="4"/>
<line x1="1316" y1="540" x2="1316" y2="1428" stroke-width="34" stroke-dasharray="5 15.7"/>
<polyline points="1340,535 1412,535 1412,1470" stroke-width="3.5" stroke-dasharray="27 15"/>
<!-- screw -->
<circle cx="1128" cy="1000" r="122" stroke-width="4.5" fill="#fff"/>
<path d="M1085,935 L1110,960 Q1128,950 1146,960 L1171,935 L1195,960 L1170,985 Q1178,1000 1170,1018 L1195,1042 L1171,1067 L1146,1042 Q1128,1052 1110,1042 L1085,1067 L1061,1042 L1086,1018 Q1078,1000 1086,985 L1061,960 Z" stroke-width="9"/>
<path d="M1085,935 L1110,960 Q1128,950 1146,960 L1171,935 L1195,960 L1170,985 Q1178,1000 1170,1018 L1195,1042 L1171,1067 L1146,1042 Q1128,1052 1110,1042 L1085,1067 L1061,1042 L1086,1018 Q1078,1000 1086,985 L1061,960 Z" stroke="#fff" stroke-width="3"/>
<polygon points="1018,1000 1062,978 1062,1024" fill="#231815" stroke="none"/>
<!-- leaders -->
<polyline points="1092,400 1210,400 1313,578"/>
<polyline points="490,648 560,648 788,833"/>
<polyline points="532,1265 602,1265 1035,1048"/>
<!-- wave -->
<path d="M475,1630 C560,1662 760,1672 900,1520 C1010,1400 1350,1325 1483,1562"/>
<!-- dimension -->
<line x1="1300" y1="1468" x2="1300" y2="1853"/><line x1="1412" y1="1528" x2="1412" y2="1853"/>
<line x1="715" y1="1817" x2="1435" y2="1817"/>
<g stroke="none">
<circle cx="183.28" cy="200.46" r="55.8" fill="#231815"/><text class="b" x="247.76" y="242" font-size="124" textLength="1167.24" lengthAdjust="spacingAndGlyphs">モヘアの出寸法調整</text>
<text class="n" x="722" y="440" font-size="139.08" textLength="363" lengthAdjust="spacingAndGlyphs">モヘア</text>
<text class="n" x="185" y="683" font-size="92" textLength="290" lengthAdjust="spacingAndGlyphs">中縦枠</text>
<text class="n" x="135" y="1289" font-size="92" textLength="365" lengthAdjust="spacingAndGlyphs">調整ねじ</text>
<text class="n" x="778" y="1780" font-size="104" textLength="494" lengthAdjust="spacingAndGlyphs">5～11mm</text>
</g>
</g>

<!-- fig6a.svg -->
<g id="fig6a" transform="translate(1390,2570) scale(0.49877)" stroke="#231815" stroke-width="5" fill="none" stroke-linejoin="round" stroke-linecap="butt">
<!-- callout -->
<path d="M72,33 H1557 a45,45 0 0 1 45,45 V537 a45,45 0 0 1 -45,45 H455 L521,684 L350,582 H72 a45,45 0 0 1 -45,-45 V78 a45,45 0 0 1 45,-45 Z" fill="#fff" stroke-width="7" stroke-linejoin="miter"/>
<!-- device left part -->
<path d="M232,295 H698 V312 H775 L785,295 H1572 a8,8 0 0 1 8,8 V402 a8,8 0 0 1 -8,8 H785 L775,398 H698 V410 H232 a8,8 0 0 1 -7,-8 V303 a8,8 0 0 1 7,-8 Z" fill="#fff" stroke-width="6"/>
<path d="M232,305 H272 Q250,352 272,400 H232 Q245,352 232,305 Z" fill="#fff" stroke-width="5"/>
<path d="M232,305 H698 M232,400 H698" stroke-width="3"/>
<path d="M345,325 H310 a27,27 0 0 0 0,55 H345" stroke-width="5"/>
<rect x="338" y="298" width="100" height="110" stroke-width="2"/>
<path d="M548,300 Q590,352 548,405" stroke-width="6"/>
<line x1="590" y1="310" x2="590" y2="398" stroke-width="6"/><line x1="640" y1="310" x2="640" y2="398" stroke-width="6"/><line x1="660" y1="310" x2="660" y2="398" stroke-width="6"/>
<circle cx="525" cy="352" r="20" fill="#fff" stroke-width="5"/>
<circle cx="378" cy="352" r="36" fill="#fff" stroke-width="5.5"/>
<circle cx="480" cy="352" r="49" fill="#c8c8c8" stroke-width="8"/>
<path d="M468,318 h24 v22 h22 v24 h-22 v22 h-24 v-22 h-22 v-24 h22 z" fill="#fff" stroke-width="7"/>
<circle cx="1392" cy="352" r="30" fill="#fff" stroke-width="5.5"/>
<circle cx="1496" cy="352" r="50" fill="#fff" stroke-width="5.5"/>
<path d="M1484,318 h24 v22 h22 v24 h-22 v22 h-24 v-22 h-22 v-24 h22 z" fill="#fff" stroke-width="6"/>
<!-- leaders -->
<polyline points="215,196 155,196 400,310" stroke-width="2.5"/>
<polyline points="760,186 710,186 500,325" stroke-width="2.5"/>
<!-- double arrow -->
<polygon points="383,480 468,432 468,462 503,462 503,432 590,480 503,528 503,498 468,498 468,528" fill="#231815" stroke="none"/>
<g stroke="none">
<circle cx="100.9" cy="104.55" r="31.5" fill="#231815"/><text class="b" x="137.3" y="128" font-size="70" textLength="454.7" lengthAdjust="spacingAndGlyphs">ブレーキ調整</text>
<text class="n" x="222" y="207" font-size="56" textLength="345" lengthAdjust="spacingAndGlyphs">調整ブロック</text>
<text class="n" x="768" y="207" font-size="56" textLength="579" lengthAdjust="spacingAndGlyphs">調整ブロック固定ねじ</text>
<text class="m" x="52" y="505" font-size="70" textLength="323" lengthAdjust="spacingAndGlyphs">ブレーキ力弱</text>
<text class="m" x="598" y="505" font-size="70" textLength="324" lengthAdjust="spacingAndGlyphs">ブレーキ力強</text>
</g>
</g>

<!-- fig6b.svg -->
<g id="fig6b" transform="translate(1560,2840) scale(0.34483)" stroke="#231815" stroke-width="7" fill="none" stroke-linejoin="miter" stroke-linecap="butt">
<rect x="180" y="246" width="1282" height="97" fill="#fff"/>
<rect x="278" y="348" width="1080" height="62" fill="#9f9f9f" stroke-width="10"/>
<line x1="273" y1="346" x2="1368" y2="346" stroke-width="12"/>
<rect x="833" y="412" width="532" height="976" fill="#c8c8c8"/>
<rect x="180" y="246" width="93" height="1142" fill="#fff"/>
<rect x="1368" y="246" width="94" height="1142" fill="#fff"/>
<line x1="1365" y1="346" x2="1365" y2="1388" stroke-width="10"/>
<rect x="860" y="793" width="63" height="200" fill="#c8c8c8" stroke-width="6"/>
<rect x="880" y="815" width="25" height="152" stroke-width="7"/>
<circle cx="378" cy="367" r="172" stroke="#fff" stroke-width="36"/>
<circle cx="378" cy="367" r="172" stroke-width="22" stroke-dasharray="30 30.04"/>
</g>


<g id="body-text">
<text class="h" x="233.5" y="373.5" font-size="45" textLength="457.5" lengthAdjust="spacingAndGlyphs">本体側の調整について</text>
<text class="n" x="494" y="462.6" font-size="42" textLength="381" lengthAdjust="spacingAndGlyphs">本体調整上のお願い</text>
<circle cx="213.625" cy="517.138" r="16.875" fill="#231815"/><text class="n" x="233.125" y="529.7" font-size="37.5" textLength="940.875" lengthAdjust="spacingAndGlyphs">本体と床のすき間が範囲から外れると以下のような不具</text>
<text class="n" x="232.6" y="578" font-size="37.5" textLength="931.525" lengthAdjust="spacingAndGlyphs">合となります。<tspan dx="-0.42em">（</tspan>本体下部のはずれ、引戸下部のこすれ）</text>
<circle cx="196.26" cy="644.07" r="17.1" fill="#231815"/><text class="b" x="216.02" y="656.8" font-size="38" textLength="338.98" lengthAdjust="spacingAndGlyphs">建付け調整について</text>
<text class="n" x="177" y="714" font-size="37.5" textLength="536.125" lengthAdjust="spacingAndGlyphs">①上下調整<tspan dx="-0.42em">（</tspan>＋4mm、－1mm）</text>
<text class="n" x="216.4" y="764" font-size="37.5" textLength="982.725" lengthAdjust="spacingAndGlyphs">ドライバーで右に回すと本体が上がり、左に回すと下がります。</text>
<text class="n" x="177" y="815" font-size="37.5" textLength="379.125" lengthAdjust="spacingAndGlyphs">②左右調整<tspan dx="-0.42em">（</tspan>±2mm）</text>
<text class="n" x="216.4" y="865.5" font-size="37.5" textLength="982.725" lengthAdjust="spacingAndGlyphs">ドライバーで右に回すと本体が右へ、左に回すと左に動きます。</text>
<circle cx="196.26" cy="1632.07" r="17.1" fill="#231815"/><text class="b" x="216.02" y="1644.8" font-size="38" textLength="431.78" lengthAdjust="spacingAndGlyphs">ソフトモーションについて</text>
<circle cx="196" cy="1688.5" r="2.6" fill="#231815"/>
<text class="n" x="216.4" y="1702" font-size="37.5" textLength="894.725" lengthAdjust="spacingAndGlyphs">静止状態で枠から60～70mmで引き込みされます。</text>
<circle cx="196" cy="1739.5" r="2.6" fill="#231815"/>
<text class="n" x="216.4" y="1753" font-size="37.5" textLength="973.3" lengthAdjust="spacingAndGlyphs">開閉時は、本体重量、速度によって作動開始位置は変わり</text>
<text class="n" x="216.4" y="1803" font-size="37.5" textLength="705.325" lengthAdjust="spacingAndGlyphs">ます。減速して引き込まれたら正常です。</text>
<circle cx="196.26" cy="2606.07" r="17.1" fill="#231815"/><text class="b" x="216.02" y="2618.8" font-size="38" textLength="790.28" lengthAdjust="spacingAndGlyphs">ソフトモーションが機能しない場合<tspan dx="-0.42em">（</tspan>自動復帰）</text>
<text class="n" x="178.4" y="2674.5" font-size="37.5" textLength="479.125" lengthAdjust="spacingAndGlyphs">①本体を全開してください。</text>
<text class="n" x="178.4" y="2725" font-size="37.5" textLength="479.125" lengthAdjust="spacingAndGlyphs">②本体を全閉してください。</text>
<text class="n" x="178.4" y="2776" font-size="37.5" textLength="957.725" lengthAdjust="spacingAndGlyphs">③復帰するまで数回全開、全閉する操作をしてください。</text>
<text class="n" x="178.4" y="2827.5" font-size="37.5" textLength="993.725" lengthAdjust="spacingAndGlyphs">※上記で復帰しない場合は、部品破損の可能性があります。</text>
<text class="h" x="1344.8" y="373.5" font-size="45" textLength="411.2" lengthAdjust="spacingAndGlyphs">枠側の調整について</text>
<circle cx="1305.46" cy="433.07" r="17.1" fill="#231815"/><text class="b" x="1325.22" y="445.8" font-size="38" textLength="338.28" lengthAdjust="spacingAndGlyphs">引戸錠のかかり調整</text>
<text class="n" x="1287.6" y="502.5" font-size="37.5" textLength="768.325" lengthAdjust="spacingAndGlyphs">①錠がかからない場合、右に回してください。</text>
<text class="n" x="1287.6" y="553" font-size="37.5" textLength="882.125" lengthAdjust="spacingAndGlyphs">②枠とのすき間が大きい場合、左に回してください。</text>
<circle cx="1305.46" cy="1465.57" r="17.1" fill="#231815"/><text class="b" x="1325.22" y="1478.3" font-size="38" textLength="791.78" lengthAdjust="spacingAndGlyphs">中縦枠のモヘア出寸法調整<tspan dx="-0.42em">（</tspan>5mm⇔11mm）</text>
<circle cx="1306" cy="1520.5" r="2.6" fill="#231815"/>
<text class="n" x="1326" y="1534" font-size="37.5" textLength="842" lengthAdjust="spacingAndGlyphs">3ヶ所の調整ねじを回すことで、モヘアの出寸法を</text>
<text class="n" x="1338.4" y="1586" font-size="37.5" textLength="443.225" lengthAdjust="spacingAndGlyphs">調整することができます。</text>
<circle cx="1306" cy="1622" r="2.6" fill="#231815"/>
<text class="n" x="1326" y="1635.5" font-size="37.5" textLength="974" lengthAdjust="spacingAndGlyphs">本体の開閉が重くなるので、1～2mmのクリアランスを</text>
<text class="n" x="1324.8" y="1686" font-size="37.5" textLength="331.325" lengthAdjust="spacingAndGlyphs">持たせてください。</text>
<circle cx="1305.46" cy="2436.07" r="17.1" fill="#231815"/><text class="b" x="1325.22" y="2448.8" font-size="38" textLength="373.48" lengthAdjust="spacingAndGlyphs">ブレーキ調整について</text>
<text class="n" x="1287.6" y="2505.5" font-size="37.5" textLength="957.925" lengthAdjust="spacingAndGlyphs">①調整ブロック固定ねじを2回転までゆるめてください。</text>
<text class="n" x="1287.6" y="2555.5" font-size="37.5" textLength="778.525" lengthAdjust="spacingAndGlyphs">②調整ブロックを動かして固定してください。</text>
</g>
</svg>
</body>
</html>
